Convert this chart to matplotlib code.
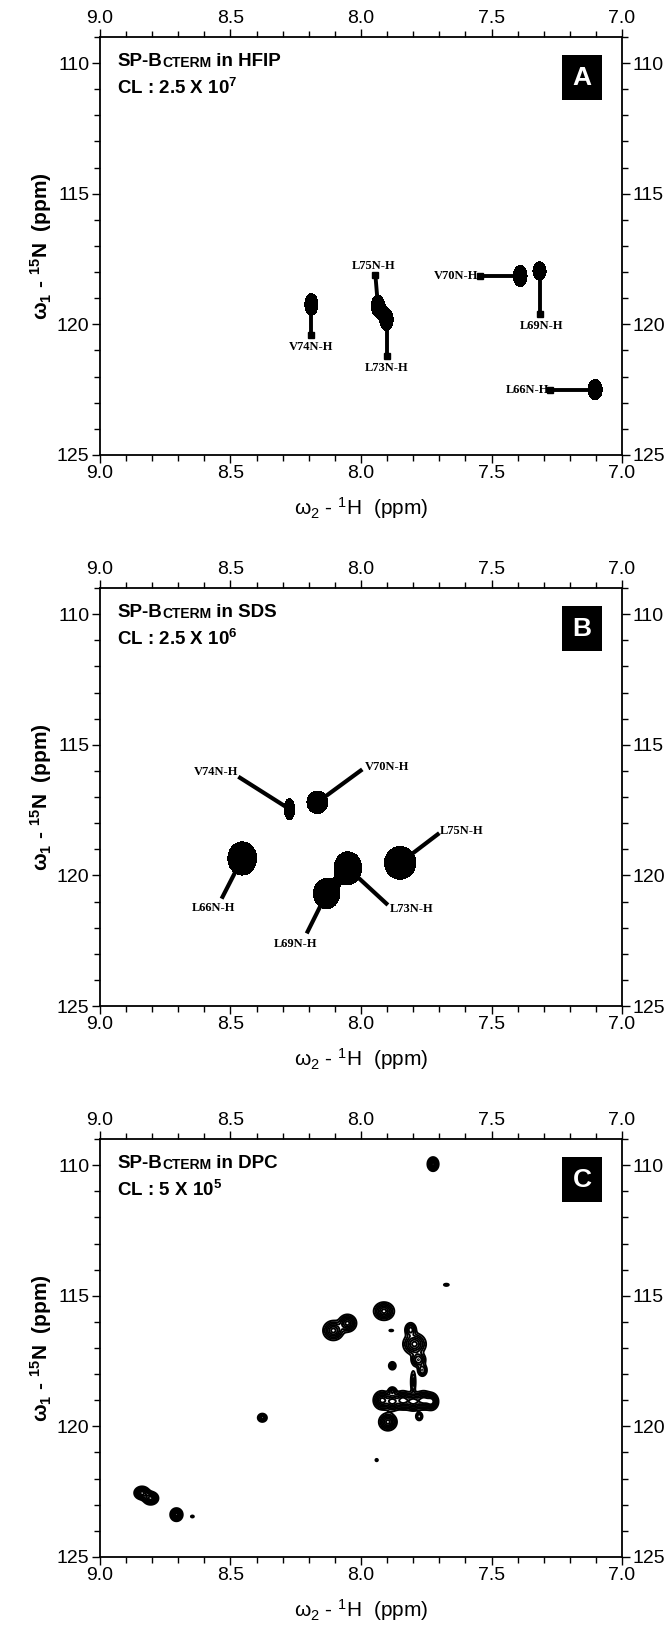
import numpy as np
import matplotlib
matplotlib.use('Agg')
import matplotlib.pyplot as plt
from matplotlib.patches import Rectangle
from matplotlib.ticker import MultipleLocator, FixedLocator, FixedFormatter

plt.rcParams['font.family'] = ['Liberation Sans', 'DejaVu Sans']
plt.rcParams['mathtext.default'] = 'regular'

# panel A (HFIP): peak positions, blob sizes (ppm), stem end, label position
a_labels = ['V74N-H', 'L75N-H', 'L73N-H', 'V70N-H', 'L69N-H', 'L66N-H']
a_h = [8.19, 7.935, 7.902, 7.39, 7.316, 7.103]
a_n = [119.24, 119.3, 119.82, 118.15, 117.96, 122.5]
a_wh = [0.05, 0.05, 0.05, 0.052, 0.05, 0.054]
a_wn = [0.83, 0.85, 0.85, 0.8, 0.7, 0.77]
a_end_h = [8.19, 7.945, 7.902, 7.544, 7.316, 7.276]
a_end_n = [120.4, 118.1, 121.2, 118.15, 119.6, 122.5]
a_lab_h = [8.19, 7.95, 7.90, 7.55, 7.31, 7.28]
a_lab_n = [120.85, 117.75, 121.68, 118.15, 120.05, 122.5]
a_ha = ['center', 'center', 'center', 'right', 'center', 'right']

# panel B (SDS)
b_labels = ['V74N-H', 'V70N-H', 'L66N-H', 'L73N-H', 'L69N-H', 'L75N-H']
b_h = [8.274, 8.167, 8.455, 8.05, 8.132, 7.85]
b_n = [117.46, 117.2, 119.35, 119.72, 120.7, 119.52]
b_wh = [0.04, 0.08, 0.11, 0.105, 0.1, 0.12]
b_wn = [0.8, 0.86, 1.27, 1.25, 1.15, 1.25]
b_end_h = [8.47, 7.995, 8.534, 7.897, 8.208, 7.70]
b_end_n = [116.22, 115.94, 120.89, 121.13, 122.22, 118.38]
b_lab_h = [8.47, 7.987, 8.566, 7.889, 8.249, 7.70]
b_lab_n = [116.04, 115.83, 121.23, 121.3, 122.62, 118.28]
b_ha = ['right', 'left', 'center', 'left', 'center', 'left']

# panel C (DPC): unassigned contour peaks
c_h = [7.724, 7.673, 7.912, 8.106, 8.052, 7.884, 7.81, 7.795, 7.78, 7.765,
       7.88, 7.92, 7.88, 7.84, 7.80, 7.76, 7.73, 7.80, 7.88, 7.897, 7.777,
       8.378, 7.94, 8.839, 8.806, 8.707, 8.646]
c_n = [109.96, 114.58, 115.59, 116.33, 116.05, 116.33, 116.3, 116.85, 117.45, 117.85,
       117.68, 119.0, 119.05, 119.0, 119.05, 119.0, 119.05, 118.3, 118.65, 119.83, 119.62,
       119.67, 121.29, 122.55, 122.75, 123.38, 123.45]
c_wh = [0.036, 0.025, 0.066, 0.066, 0.058, 0.02, 0.04, 0.074, 0.05, 0.035,
        0.025, 0.055, 0.055, 0.055, 0.06, 0.055, 0.045, 0.02, 0.03, 0.058, 0.025,
        0.033, 0.012, 0.05, 0.05, 0.04, 0.015]
c_wn = [0.45, 0.11, 0.58, 0.63, 0.56, 0.08, 0.5, 0.7, 0.5, 0.45,
        0.28, 0.6, 0.6, 0.6, 0.6, 0.6, 0.55, 0.9, 0.3, 0.56, 0.3,
        0.3, 0.12, 0.42, 0.42, 0.42, 0.1]
c_amp = [1.0, 0.25, 1.0, 1.0, 1.0, 0.25, 0.6, 1.0, 0.7, 0.5,
         0.6, 1.0, 1.0, 1.0, 1.0, 1.0, 1.0, 0.4, 0.5, 1.0, 0.5,
         0.6, 0.25, 1.0, 1.0, 1.0, 0.25]

panels = ['A', 'B', 'C']
solvents = ['HFIP', 'SDS', 'DPC']
cl_text = ['CL : 2.5 X 10$^{7}$', 'CL : 2.5 X 10$^{6}$', 'CL : 5 X 10$^{5}$']

H, N = np.meshgrid(np.linspace(7.0, 9.0, 900), np.linspace(109, 125, 900))


def spectrum(h, n, wh, wn, amp=None):
    # sum of 2D gaussians; w = full size at 20% of the peak height
    Z = np.zeros_like(H)
    if amp is None:
        amp = [1.0] * len(h)
    for x0, y0, wx, wy, a in zip(h, n, wh, wn, amp):
        sx, sy = wx / 3.588, wy / 3.588
        Z += a * np.exp(-0.5 * ((H - x0) / sx) ** 2 - 0.5 * ((N - y0) / sy) ** 2)
    return Z


def setup(ax, letter, solvent, cl):
    ax.set_xlim(9.0, 7.0)
    ax.set_ylim(125, 109)
    ax.xaxis.set_major_locator(FixedLocator([9.0, 8.5, 8.0, 7.5, 7.0]))
    ax.xaxis.set_major_formatter(FixedFormatter(['9.0', '8.5', '8.0', '7.5', '7.0']))
    ax.xaxis.set_minor_locator(MultipleLocator(0.1))
    ax.yaxis.set_major_locator(FixedLocator([110, 115, 120, 125]))
    ax.yaxis.set_minor_locator(MultipleLocator(1))
    ax.tick_params(which='both', direction='out', top=True, right=True,
                   labeltop=True, labelright=True, width=1.0, labelsize=14, pad=1.5)
    ax.tick_params(which='major', length=6)
    ax.tick_params(which='minor', length=4)
    for s in ax.spines.values():
        s.set_linewidth(1.3)
    ax.set_xlabel('ω$_2$ - $^1$H  (ppm)', fontsize=15, labelpad=9)
    ax.set_ylabel('ω$_1$ - $^{15}$N  (ppm)', fontsize=15, fontweight='bold', labelpad=2)

    t1 = ax.text(0.033, 0.93, 'SP-B', transform=ax.transAxes, fontsize=13.5,
                 fontweight='bold', va='baseline', ha='left')
    t2 = ax.annotate('CTERM', xy=(1, 0), xycoords=t1, fontsize=10,
                     fontweight='bold', va='bottom', ha='left')
    ax.annotate(' in ' + solvent, xy=(1, 0), xycoords=t2, fontsize=13.5,
                fontweight='bold', va='bottom', ha='left')
    ax.text(0.033, 0.863, cl, transform=ax.transAxes, fontsize=13.5,
            fontweight='bold', va='baseline', ha='left')

    ax.add_patch(Rectangle((0.885, 0.85), 0.077, 0.106, transform=ax.transAxes,
                           facecolor='black', edgecolor='none', zorder=5))
    ax.text(0.9235, 0.903, letter, transform=ax.transAxes, color='white',
            fontsize=19, fontweight='bold', ha='center', va='center', zorder=6)


def label_peaks(ax, h, n, end_h, end_n, lab_h, lab_n, labels, ha, lw, square):
    for x0, y0, x1, y1, lx, ly, lab, al in zip(h, n, end_h, end_n, lab_h, lab_n, labels, ha):
        ax.plot([x0, x1], [y0, y1], color='black', lw=lw, solid_capstyle='butt')
        if square:
            ax.plot([x1], [y1], marker='s', ms=4.5, color='black')
        ax.text(lx, ly, lab, fontsize=9, fontweight='bold',
                family=['Liberation Serif', 'DejaVu Serif'],
                ha=al, va='center')


fig = plt.figure(figsize=(6.71, 16.30), dpi=100)
bottoms = [0.7209, 0.3828, 0.0448]
axes = [fig.add_axes([0.149, b, 0.778, 0.2564]) for b in bottoms]

# A
ax = axes[0]
Z = spectrum(a_h, a_n, a_wh, a_wn)
ax.contourf(H, N, Z, levels=[0.2, 100], colors='black')
label_peaks(ax, a_h, a_n, a_end_h, a_end_n, a_lab_h, a_lab_n, a_labels, a_ha, 2.8, True)
setup(ax, panels[0], solvents[0], cl_text[0])

# B
ax = axes[1]
Z = spectrum(b_h, b_n, b_wh, b_wn)
ax.contourf(H, N, Z, levels=[0.2, 100], colors='black')
label_peaks(ax, b_h, b_n, b_end_h, b_end_n, b_lab_h, b_lab_n, b_labels, b_ha, 3.0, False)
setup(ax, panels[1], solvents[1], cl_text[1])

# C
ax = axes[2]
Z = spectrum(c_h, c_n, c_wh, c_wn, c_amp)
ax.contour(H, N, Z, levels=[0.1, 0.2, 0.33, 0.5, 0.7, 0.9],
           colors='black', linewidths=1.4)
setup(ax, panels[2], solvents[2], cl_text[2])

fig.savefig('out.png', dpi=100)
